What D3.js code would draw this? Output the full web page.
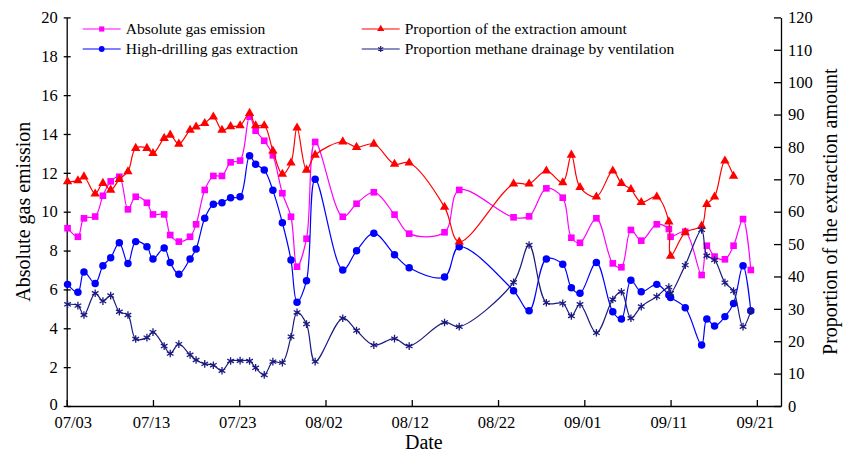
<!DOCTYPE html>
<html>
<head>
<meta charset="utf-8">
<script src="https://cdn.jsdelivr.net/npm/d3@7"></script>
<style>
    body { margin: 0; background: #fff; }
    svg { display: block; font-family: "Liberation Serif", "Times New Roman", serif; }
</style>
</head>
<body>
<svg id="chart" width="856" height="455"></svg>
<script>
//data
//days after 07/03 for every measurement
const days = [0.1, 1.3, 2.0, 3.3, 4.2, 5.1, 6.1, 7.1, 8.0, 9.3,
    10.0, 11.3, 12.0, 13.0, 14.3, 15.0, 16.0, 17.0, 18.0, 19.0,
    20.1, 21.2, 21.9, 22.9, 23.9, 25.0, 26.0, 26.7, 27.8, 28.8,
    32.0, 33.6, 35.6, 38.0, 39.7, 43.8, 45.5, 51.8, 53.6, 55.6,
    57.5, 58.5, 59.5, 61.4, 63.3, 64.3, 65.4, 66.6, 68.4, 69.8,
    70.0, 71.7, 73.6, 74.2, 75.1, 76.3, 77.3, 78.4, 79.3];

//left axis series
const absoluteGas = [9.15, 8.71, 9.66, 9.75, 10.82, 11.56, 11.80, 10.12, 10.77, 10.46,
    9.86, 9.86, 8.80, 8.46, 8.71, 9.35, 11.12, 11.84, 11.84, 12.54,
    12.63, 14.89, 14.17, 13.65, 12.90, 10.95, 9.74, 7.17, 8.61, 13.59,
    9.74, 10.41, 11.00, 9.85, 8.87, 8.94, 11.12, 9.71, 9.76, 11.20,
    10.72, 8.66, 8.40, 9.66, 7.34, 7.14, 9.06, 8.51, 9.35, 9.11,
    8.71, 8.97, 6.74, 8.25, 7.69, 7.55, 8.25, 9.62, 7.00];

const highDrilling = [6.26, 5.85, 6.90, 6.31, 7.22, 7.63, 8.40, 7.33, 8.46, 8.20,
    7.57, 8.13, 7.38, 6.78, 7.57, 8.08, 9.66, 10.38, 10.46, 10.72,
    10.77, 12.88, 12.44, 12.15, 11.10, 9.43, 7.51, 5.34, 6.45, 11.67,
    7.00, 7.99, 8.89, 7.79, 7.12, 6.64, 8.20, 5.93, 4.90, 7.57,
    7.29, 6.09, 5.80, 7.38, 4.85, 4.48, 6.47, 5.88, 6.26, 5.71,
    5.59, 5.06, 3.14, 4.48, 4.12, 4.60, 5.28, 7.22, 4.90];

//right axis series (%)
const extractionProportion = [69.3, 69.6, 70.8, 65.5, 68.8, 66.7, 70.0, 72.4, 79.6, 79.6,
    78.0, 82.7, 83.7, 80.9, 85.2, 86.2, 87.3, 89.3, 85.2, 86.3,
    86.6, 90.4, 86.6, 86.6, 78.8, 71.6, 75.1, 85.9, 72.9, 77.5,
    81.6, 79.9, 80.9, 74.7, 75.1, 61.4, 50.7, 68.6, 68.6, 72.6,
    69.0, 77.5, 67.5, 64.6, 72.6, 68.8, 66.9, 62.9, 64.6, 56.9,
    46.3, 53.6, 55.6, 62.3, 64.6, 75.7, 71.0];

const ventilationProportion = [31.4, 31.0, 28.1, 34.8, 32.4, 34.1, 29.1, 28.1, 20.7, 21.1,
    22.8, 18.5, 16.2, 19.1, 15.8, 14.2, 13.0, 12.6, 10.9, 13.9,
    14.0, 13.9, 11.8, 9.6, 13.7, 13.4, 21.4, 28.9, 25.3, 13.7,
    27.1, 23.3, 18.8, 20.8, 18.5, 25.8, 24.5, 38.2, 49.7, 31.9,
    31.7, 27.8, 31.4, 22.6, 32.9, 35.3, 27.1, 30.7, 33.8, 36.7,
    34.8, 43.5, 54.4, 46.4, 45.1, 38.1, 35.5, 24.5, 29.3];

//tick labels
const dateTicks = [0, 10, 20, 30, 40, 50, 60, 70, 80];
const dateLabels = ["07/03", "07/13", "07/23", "08/02", "08/12", "08/22", "09/01", "09/11", "09/21"];
const leftTicks = [0, 2, 4, 6, 8, 10, 12, 14, 16, 18, 20];
const rightTicks = [0, 10, 20, 30, 40, 50, 60, 70, 80, 90, 100, 110, 120];

//layout
const plotLeft = 66.7, plotRight = 781, plotTop = 17.4, plotBottom = 406;

const svg = d3.select('#chart');

const x = d3.scaleLinear().domain([0, 82.8]).range([plotLeft, plotRight]);
const yLeft = d3.scaleLinear().domain([0, 20]).range([plotBottom, plotTop]);
const yRight = d3.scaleLinear().domain([0, 120]).range([plotBottom, plotTop]);

//custom asterisk marker
const asterisk = {
    draw(context, size) {
        const r = Math.sqrt(size) * 0.55;
        const a = r * 0.87, b = r * 0.5;
        context.moveTo(0, -r); context.lineTo(0, r);
        context.moveTo(-a, -b); context.lineTo(a, b);
        context.moveTo(-a, b); context.lineTo(a, -b);
    }
};

const series = [
    { name: 'Absolute gas emission', values: absoluteGas, y: yLeft, color: '#ff00ff', symbol: d3.symbolSquare, size: 44, stroke: false },
    { name: 'High-drilling gas extraction', values: highDrilling, y: yLeft, color: '#0000ff', symbol: d3.symbolCircle, size: 44, stroke: false },
    { name: 'Proportion of the extraction amount', values: extractionProportion, y: yRight, color: '#ff0000', symbol: d3.symbolTriangle, size: 38, stroke: false },
    { name: 'Proportion methane drainage by ventilation', values: ventilationProportion, y: yRight, color: '#1a1a80', symbol: asterisk, size: 48, stroke: true }
];

//axes
const gLeft = svg.append('g')
    .attr('transform', 'translate(' + plotLeft + ',0)')
    .call(d3.axisLeft(yLeft).tickValues(leftTicks).tickSizeInner(3).tickSizeOuter(0).tickPadding(6));
gLeft.selectAll('.tick line').attr('x1', 4);
gLeft.selectAll('.tick text').attr('dy', (d) => d === 0 ? '0.2em' : '0.32em');

const gRight = svg.append('g')
    .attr('transform', 'translate(' + plotRight + ',0)')
    .call(d3.axisRight(yRight).tickValues(rightTicks).tickSizeInner(-7).tickSizeOuter(0).tickPadding(7));

const gBottom = svg.append('g')
    .attr('transform', 'translate(0,' + plotBottom + ')')
    .call(d3.axisBottom(x).tickValues(dateTicks)
        .tickFormat((d, i) => dateLabels[i])
        .tickSizeInner(-6).tickSizeOuter(0).tickPadding(10));
//first date label sits a bit right of its tick, as in the original
gBottom.selectAll('.tick text').attr('dx', (d) => d === 0 ? 6 : -2);

[gLeft, gRight, gBottom].forEach(g => {
    g.selectAll('text').attr('font-size', 16.5).attr('fill', '#000');
    g.selectAll('line, path').attr('stroke', '#000').attr('stroke-width', 1.3);
    g.attr('font-family', null).attr('font-size', null);
});

//axis titles
svg.append('text')
    .attr('transform', 'translate(23,' + ((plotTop + plotBottom) / 2) + ') rotate(-90)')
    .attr('text-anchor', 'middle')
    .attr('dy', '0.35em')
    .attr('font-size', 20)
    .text('Absolute gas emission');

svg.append('text')
    .attr('transform', 'translate(830,' + ((plotTop + plotBottom) / 2) + ') rotate(-90)')
    .attr('text-anchor', 'middle')
    .attr('dy', '0.35em')
    .attr('font-size', 20)
    .text('Proportion of the extraction amount');

svg.append('text')
    .attr('x', (plotLeft + plotRight) / 2)
    .attr('y', 449)
    .attr('text-anchor', 'middle')
    .attr('font-size', 20)
    .text('Date');

//lines and markers
series.forEach(s => {
    const pts = s.values.map((v, i) => [days[i], v]);

    const line = d3.line()
        .x(d => x(d[0]))
        .y(d => s.y(d[1]))
        .curve(d3.curveCatmullRom);

    svg.append('path')
        .datum(pts)
        .attr('d', line)
        .attr('fill', 'none')
        .attr('stroke', s.color)
        .attr('stroke-width', 1.2);

    svg.append('g').selectAll('path')
        .data(pts)
        .enter().append('path')
        .attr('transform', d => 'translate(' + x(d[0]) + ',' + s.y(d[1]) + ')')
        .attr('d', d3.symbol().type(s.symbol).size(s.size))
        .attr('fill', s.stroke ? 'none' : s.color)
        .attr('stroke', s.color)
        .attr('stroke-width', s.stroke ? 1.3 : 0);
});

//legend
const legendPos = [
    { x: 82.7, y: 29 },
    { x: 82.7, y: 49 },
    { x: 361.7, y: 29 },
    { x: 361.7, y: 49 }
];

series.forEach((s, i) => {
    const p = legendPos[i];
    const g = svg.append('g').attr('transform', 'translate(' + p.x + ',' + p.y + ')');
    g.append('line')
        .attr('x1', 0).attr('x2', 38)
        .attr('stroke', s.color)
        .attr('stroke-width', 1.2);
    g.append('path')
        .attr('transform', 'translate(19,0)')
        .attr('d', d3.symbol().type(s.symbol).size(s.size * 0.6))
        .attr('fill', s.stroke ? 'none' : s.color)
        .attr('stroke', s.color)
        .attr('stroke-width', s.stroke ? 1.2 : 0);
    g.append('text')
        .attr('x', 43)
        .attr('dy', '0.35em')
        .attr('font-size', 15.5)
        .text(s.name);
});
</script>
</body>
</html>
